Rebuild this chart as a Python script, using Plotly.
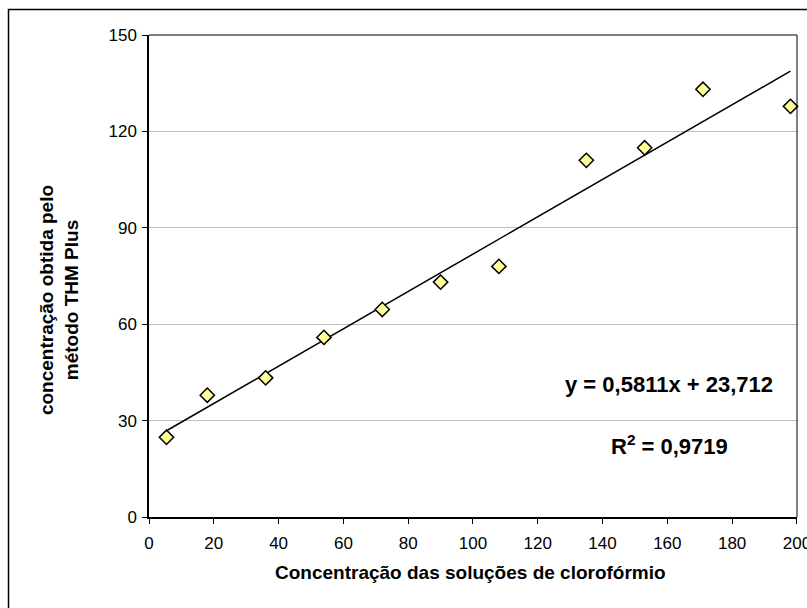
import plotly.graph_objects as go

# Data
conc_x = [5.4, 18, 36, 54, 72, 90, 108, 135, 153, 171, 198]
thm_y = [24.8, 37.9, 43.3, 55.9, 64.6, 73.1, 78.0, 111.0, 114.9, 133.1, 127.8]

slope = 0.5811
intercept = 23.712
r2_text = "0,9719"

x_ticks = [0, 20, 40, 60, 80, 100, 120, 140, 160, 180, 200]
y_ticks = [0, 30, 60, 90, 120, 150]

x_title = "Concentração das soluções de clorofórmio"
y_title = "concentração obtida pelo<br>método THM Plus"

trend_x = [min(conc_x), max(conc_x)]
trend_y = [slope * v + intercept for v in trend_x]

FONT = "Liberation Sans, Arial, sans-serif"

fig = go.Figure()
fig.add_trace(go.Scatter(
    x=trend_x, y=trend_y, mode="lines",
    line=dict(color="black", width=1.5),
    hoverinfo="skip", showlegend=False,
))
fig.add_trace(go.Scatter(
    x=conc_x, y=thm_y, mode="markers",
    marker=dict(symbol="diamond", size=11, color="#FFFF99",
                line=dict(color="black", width=1.5)),
    showlegend=False, cliponaxis=False,
))

eq_text = f"<b>y = {str(slope).replace('.', ',')}x + {str(intercept).replace('.', ',')}</b>"

fig.update_layout(
    width=807, height=608,
    margin=dict(l=149, r=10, t=35, b=91),
    paper_bgcolor="white", plot_bgcolor="white",
    font=dict(family=FONT, color="black"),
    xaxis=dict(
        range=[0, 200.02], tickvals=x_ticks, ticks="outside", ticklen=5,
        tickcolor="black", tickwidth=1, showline=True, linecolor="black",
        linewidth=1.5, showgrid=False, zeroline=False,
        ticklabeloverflow="allow", automargin=False, ticklabelstandoff=5,
        tickfont=dict(size=17, family=FONT, color="black"),
    ),
    yaxis=dict(
        range=[0, 150.01], tickvals=y_ticks, ticks="outside", ticklen=5,
        tickcolor="black", tickwidth=1, showline=True, linecolor="black",
        linewidth=1.5, showgrid=True, gridcolor="#BFBFBF", gridwidth=1,
        zeroline=False, automargin=False, ticklabelstandoff=2,
        tickfont=dict(size=17, family=FONT, color="black"),
    ),
    shapes=[
        # plot-area top (gray) and right (black) edges
        dict(type="line", xref="x domain", yref="y domain", x0=0, x1=1, y0=1, y1=1,
             line=dict(color="#808080", width=2)),
        dict(type="line", xref="x domain", yref="y domain", x0=1, x1=1, y0=0, y1=1,
             line=dict(color="black", width=1)),
        # outer chart border (right/bottom edges fall off the picture)
        dict(type="rect", xref="paper", yref="paper",
             x0=-0.2168, x1=1.5, y0=-0.5, y1=1.0529,
             line=dict(color="black", width=1.5), layer="above"),
    ],
    annotations=[
        dict(text=eq_text,
             xref="paper", yref="paper", x=0.8025, y=0.2739,
             showarrow=False, font=dict(size=22, family=FONT, color="black"),
             xanchor="center", yanchor="middle"),
        dict(text=f"<b>R<sup>2</sup> = {r2_text}</b>",
             xref="paper", yref="paper", x=0.804, y=0.1494,
             showarrow=False, font=dict(size=22, family=FONT, color="black"),
             xanchor="center", yanchor="middle"),
        dict(text=f"<b>{x_title}</b>", xref="paper", yref="paper",
             x=0.4954, y=-0.116, showarrow=False,
             font=dict(size=19, family=FONT, color="black"),
             xanchor="center", yanchor="middle"),
        dict(text=f"<b>{y_title}</b>", xref="paper", yref="paper",
             x=-0.1389, y=0.45, showarrow=False, textangle=-90,
             font=dict(size=19, family=FONT, color="black"),
             xanchor="center", yanchor="middle"),
    ],
)

fig.write_html("out.html")
